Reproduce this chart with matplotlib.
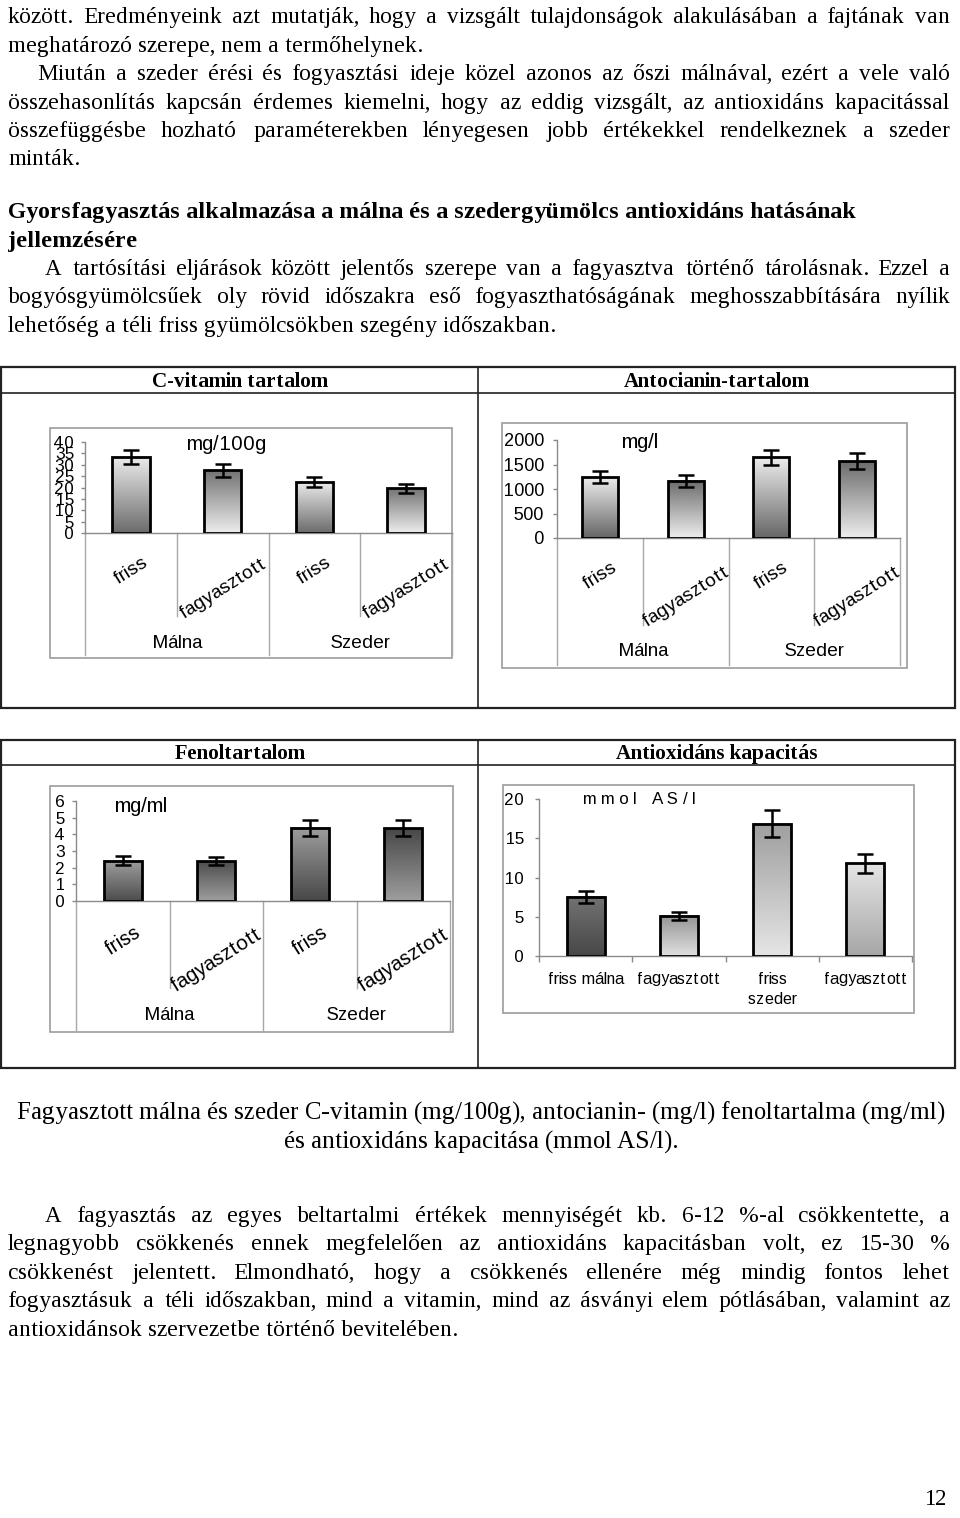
import numpy as np
import matplotlib
matplotlib.use("Agg")
import matplotlib.pyplot as plt
from matplotlib import transforms
from matplotlib.patches import Rectangle
from matplotlib.font_manager import FontProperties

# ---------------- data ----------------
cat_labels = ["friss", "fagyasztott", "friss", "fagyasztott"]
group_labels = ["Málna", "Szeder"]

vitc_vals = [33.5, 27.5, 22.5, 19.7]
vitc_err = [3.0, 2.9, 2.2, 2.0]
vitc_ticks = [0, 5, 10, 15, 20, 25, 30, 35, 40]

anto_vals = [1240, 1170, 1650, 1570]
anto_err = [125, 120, 150, 160]
anto_ticks = [0, 500, 1000, 1500, 2000]

fenol_vals = [2.42, 2.40, 4.40, 4.38]
fenol_err = [0.27, 0.26, 0.47, 0.46]
fenol_ticks = [0, 1, 2, 3, 4, 5, 6]

antiox_vals = [7.55, 5.1, 16.85, 11.8]
antiox_err = [0.77, 0.48, 1.7, 1.18]
antiox_ticks = [0, 5, 10, 15, 20]
antiox_labels = ["friss málna", "fagyasztott", "friss\nszeder", "fagyasztott"]

table_headers = ["C-vitamin tartalom", "Antocianin-tartalom", "Fenoltartalom", "Antioxidáns kapacitás"]
units = ["mg/100g", "mg/l", "mg/ml", "mmol AS/l"]

para1 = [
    ("között. Eredményeink azt mutatják, hogy a vizsgált tulajdonságok alakulásában a fajtának van", True, 0),
    ("meghatározó szerepe, nem a termőhelynek.", False, 0),
    ("Miután a szeder érési és fogyasztási ideje közel azonos az őszi málnával, ezért a vele való", True, 29),
    ("összehasonlítás kapcsán érdemes kiemelni, hogy az eddig vizsgált, az antioxidáns kapacitással", True, 0),
    ("összefüggésbe hozható paraméterekben lényegesen jobb értékekkel rendelkeznek a szeder", True, 0),
    ("minták.", False, 0),
]
heading = ["Gyorsfagyasztás alkalmazása a málna és a szedergyümölcs antioxidáns hatásának",
           "jellemzésére"]
para2 = [
    ("A tartósítási eljárások között jelentős szerepe van a fagyasztva történő tárolásnak. Ezzel a", True, 37),
    ("bogyósgyümölcsűek oly rövid időszakra eső fogyaszthatóságának meghosszabbítására nyílik", True, 0),
    ("lehetőség a téli friss gyümölcsökben szegény időszakban.", False, 0),
]
caption = ["Fagyasztott málna és szeder C-vitamin (mg/100g), antocianin- (mg/l) fenoltartalma (mg/ml)",
           "és antioxidáns kapacitása (mmol AS/l)."]
para3 = [
    ("A fagyasztás az egyes beltartalmi értékek mennyiségét kb. 6-12 %-al csökkentette, a", True, 37),
    ("legnagyobb csökkenés ennek megfelelően az antioxidáns kapacitásban volt, ez 15-30 %", True, 0),
    ("csökkenést jelentett. Elmondható, hogy a csökkenés ellenére még mindig fontos lehet", True, 0),
    ("fogyasztásuk a téli időszakban, mind a vitamin, mind az ásványi elem pótlásában, valamint az", True, 0),
    ("antioxidánsok szervezetbe történő bevitelében.", False, 0),
]
page_number = "12"

# ---------------- page ----------------
W, H = 960, 1518
plt.rcParams['font.family'] = 'Liberation Sans'
plt.rcParams['text.hinting_factor'] = 1
SERIF = 'Liberation Serif'
SANS = 'Liberation Sans'

fig = plt.figure(figsize=(W / 100, H / 100), dpi=100)
page = fig.add_axes([0, 0, 1, 1])
page.set_xlim(0, W)
page.set_ylim(H, 0)
page.axis('off')
renderer = fig.canvas.get_renderer()


def text_width(s, size, weight='normal', family=SERIF):
    fp = FontProperties(family=family, size=size, weight=weight)
    w, h, d = renderer.get_text_width_height_descent(s, fp, ismath=False)
    return w


def fit_size(s, target, weight='normal', family=SERIF):
    size = 10 * target / text_width(s, 10, weight, family)
    for _ in range(4):
        size *= target / text_width(s, size, weight, family)
    return size


body = 10 * 570 / text_width("lehetőség a téli friss gyümölcsökben szegény időszakban.", 10)
bold_size = fit_size(heading[0], 867, weight='bold')
XL, XR = 8, 950


def draw_line(s, yb, justify, indent=0, weight='normal', size=None):
    size = size or body
    x0 = XL + indent
    words = s.split(' ')
    if not justify or len(words) == 1:
        page.text(x0, yb, s, fontsize=size, family=SERIF, weight=weight, va='baseline', ha='left')
        return
    ws = [text_width(w, size, weight) for w in words]
    gap = max((XR - x0 - sum(ws)) / (len(words) - 1), 2)
    x = x0
    for w, wd in zip(words, ws):
        page.text(round(x), yb, w, fontsize=size, family=SERIF, weight=weight, va='baseline', ha='left')
        x += wd + gap


def spaced_text(cx, cy, s, size, spacing, va='center'):
    """Sans text drawn char by char with extra letter spacing, centred at cx."""
    sp_w = text_width('a b', size, family=SANS) - text_width('ab', size, family=SANS)
    ws = [sp_w if c == ' ' else text_width(c, size, family=SANS) for c in s]
    total = sum(ws) + spacing * (len(s) - 1)
    x = cx - total / 2
    for c, wd in zip(s, ws):
        if c != ' ':
            page.text(round(x), cy, c, fontsize=size, family=SANS, ha='left', va=va)
        x += wd + spacing


for (s, j, ind), yb in zip(para1, [23, 52, 80, 109, 137, 165]):
    draw_line(s, yb, j, ind)
for s, yb in zip(heading, [218, 247]):
    draw_line(s, yb, False, 0, weight='bold', size=bold_size)
for (s, j, ind), yb in zip(para2, [275, 303, 332]):
    draw_line(s, yb, j, ind)
cap_size = fit_size(caption[0], 918)
for s, yb in zip(caption, [1120, 1149]):
    page.text(481, yb, s, fontsize=cap_size, family=SERIF, ha='center', va='baseline')
for (s, j, ind), yb in zip(para3, [1222, 1250, 1279, 1307, 1336]):
    draw_line(s, yb, j, ind)
page.text(935, 1505, page_number, fontsize=body, family=SERIF, ha='center', va='baseline')

# ---------------- tables ----------------
for (ty0, ty1, hy) in [(367, 708, 393), (740, 1068, 765)]:
    page.add_patch(Rectangle((1, ty0), 954, ty1 - ty0, fill=False, ec='#222222', lw=1.6))
    page.plot([1, 955], [hy, hy], color='#222222', lw=1.2)
    page.plot([478, 478], [ty0, ty1], color='#222222', lw=1.2)

hdr_size = fit_size(table_headers[0], 170, weight='bold')
for s, (cx, cy) in zip(table_headers, [(240, 387), (717, 387), (240, 759), (717, 759)]):
    page.text(cx, cy, s, fontsize=hdr_size, family=SERIF, weight='bold', ha='center', va='baseline')


# ---------------- charts ----------------
def chart(vals, errs, ticks, box, plot, grads, unit, unit_xy, sizes, tick_pad, bw=0.41,
          grouped=True, offsets=None, seps=None, xlabels=None):
    bx0, by0, bx1, by1 = box
    page.add_patch(Rectangle((bx0, by0), bx1 - bx0, by1 - by0, fill=False, ec='#9c9c9c', lw=1.2))
    x0, y0, x1, y1 = plot
    ax = fig.add_axes([x0 / W, 1 - y1 / H, (x1 - x0) / W, (y1 - y0) / H])
    ax.patch.set_alpha(0)
    n = len(vals)
    xs = np.arange(n) + 0.5
    bars = ax.bar(xs, vals, width=bw, facecolor='none', edgecolor='black', linewidth=2.0, zorder=3)
    for b, (top, bot) in zip(bars, grads):
        g = np.linspace(top, bot, 256)[:, None, None] * np.ones((1, 1, 3))
        ax.imshow(g, extent=[b.get_x(), b.get_x() + b.get_width(), 0, b.get_height()],
                  aspect='auto', origin='upper', interpolation='bilinear', zorder=2)
    ax.errorbar(xs, vals, yerr=errs, fmt='none', ecolor='black', elinewidth=1.8,
                capsize=5.5, capthick=1.8, zorder=4)
    ax.set_xlim(0, n)
    ax.set_ylim(ticks[0], ticks[-1])
    ax.set_yticks(ticks)
    ax.set_yticklabels([str(t) for t in ticks])
    for sp in ['top', 'right']:
        ax.spines[sp].set_visible(False)
    for sp in ['left', 'bottom']:
        ax.spines[sp].set_color('#8a8a8a')
        ax.spines[sp].set_linewidth(1.0)
    ax.tick_params(axis='y', direction='out', length=3, color='#8a8a8a', width=1.0,
                   labelsize=sizes['tick'], pad=tick_pad, labelcolor='black')
    bt = transforms.blended_transform_factory(ax.transData, page.transData)
    if grouped:
        ax.set_xticks([])
        o_f, o_g, o_grp = offsets
        for i, lab in enumerate(cat_labels):
            off = o_f if i % 2 == 0 else o_g
            ax.text(xs[i], y1 + off, lab, transform=bt, rotation=32, ha='center', va='center',
                    rotation_mode='anchor', fontsize=sizes['cat'])
        for k, g in enumerate(group_labels):
            ax.text(2 * k + 1, y1 + o_grp, g, transform=bt, ha='center', va='center',
                    fontsize=sizes['grp'])
        long_end, short_end = seps
        for i in range(n + 1):
            end = long_end if i % 2 == 0 else short_end
            ax.plot([i, i], [y1, y1 + end], transform=bt, color='#a8a8a8', lw=1.0, clip_on=False)
        page.text(unit_xy[0], unit_xy[1], unit, ha='center', va='center', fontsize=sizes['unit'])
    else:
        ax.set_xticks(np.arange(n + 1))
        ax.set_xticklabels([])
        ax.tick_params(axis='x', direction='out', length=4, color='#8a8a8a', width=1.0)
        for i, lab in enumerate(xlabels):
            cx = ax.transData.transform((xs[i], 0))[0]
            for k, part in enumerate(lab.split('\n')):
                spaced_text(cx, y1 + 23 + 21 * k, part, sizes['cat'], 0.0)
        spaced_text(unit_xy[0], unit_xy[1], unit, sizes['unit'], 4.6)
    return ax


chart(vitc_vals, vitc_err, vitc_ticks, box=(50, 428, 452, 658), plot=(85, 442, 452, 533),
      grads=[(0.93, 0.42), (0.45, 0.93), (0.93, 0.42), (0.45, 0.93)],
      unit=units[0], unit_xy=(226, 444),
      sizes=dict(tick=12.5, unit=14.5, cat=14, grp=13.5), tick_pad=5,
      offsets=(38, 56, 110), seps=(122, 83))

chart(anto_vals, anto_err, anto_ticks, box=(502, 423, 907, 668), plot=(557, 440, 900, 538),
      grads=[(0.93, 0.40), (0.42, 0.93), (0.93, 0.40), (0.42, 0.93)],
      unit=units[1], unit_xy=(640, 443),
      sizes=dict(tick=13, unit=15, cat=14, grp=13.5), tick_pad=6.5, bw=0.42,
      offsets=(38, 59, 114), seps=(127, 87))

chart(fenol_vals, fenol_err, fenol_ticks, box=(50, 786, 453, 1032), plot=(76, 801, 450, 901),
      grads=[(0.62, 0.30), (0.30, 0.62), (0.62, 0.28), (0.28, 0.62)],
      unit=units[2], unit_xy=(141, 807),
      sizes=dict(tick=12.5, unit=15, cat=14.5, grp=13.5), tick_pad=5,
      offsets=(40, 59, 114), seps=(129, 87))

chart(antiox_vals, antiox_err, antiox_ticks, box=(503, 785, 914, 1013), plot=(539, 799, 912, 956),
      grads=[(0.45, 0.28), (0.58, 0.88), (0.62, 0.90), (0.90, 0.65)],
      unit=units[3], unit_xy=(639, 800),
      sizes=dict(tick=12.5, unit=12, cat=11.8), tick_pad=8,
      grouped=False, xlabels=antiox_labels)

fig.savefig("out.png", dpi=100)
